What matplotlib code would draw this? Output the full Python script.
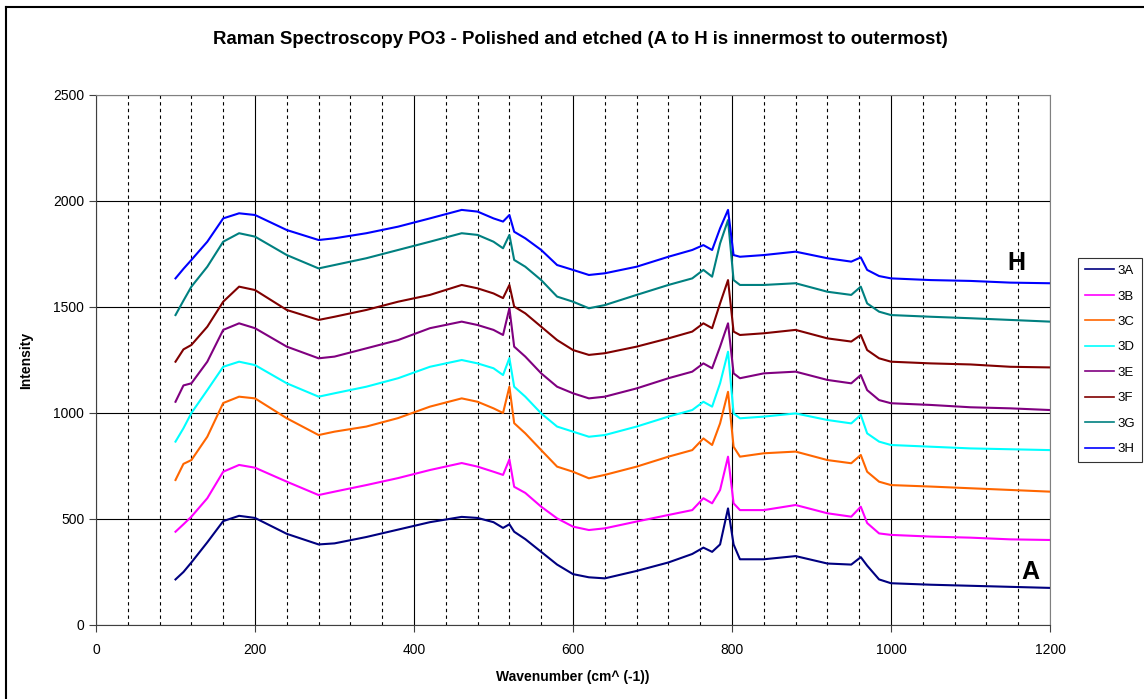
import matplotlib.pyplot as plt
import matplotlib as mpl
from matplotlib.lines import Line2D

mpl.rcParams['font.family'] = ['Liberation Sans', 'DejaVu Sans']

# wavenumber grid (cm^-1)
wavenumber = [100, 110, 120, 140, 160, 180, 200, 240, 280, 300, 340, 380, 420, 460, 480, 500,
              512, 520, 526, 540, 560, 580, 600, 620, 640, 680, 720, 750, 764, 775, 785, 795,
              802, 810, 840, 880, 920, 950, 962, 970, 985, 1000, 1050, 1100, 1150, 1200]

s3A = [215, 250, 295, 390, 490, 515, 505, 430, 380, 385, 415, 450, 485, 510, 505, 485,
       458, 475, 440, 405, 345, 285, 240, 225, 220, 255, 295, 335, 365, 345, 380, 550,
       380, 310, 310, 325, 290, 285, 320, 280, 215, 197, 190, 185, 180, 175]
s3B = [440, 475, 511, 598, 723, 755, 742, 676, 613, 629, 660, 693, 731, 764, 747, 723,
       708, 781, 652, 623, 558, 503, 464, 448, 456, 488, 519, 542, 598, 574, 637, 794,
       574, 542, 542, 566, 527, 511, 558, 481, 432, 425, 417, 412, 404, 401]
s3C = [684, 760, 778, 888, 1047, 1077, 1069, 975, 896, 912, 936, 976, 1030, 1069, 1053, 1022,
       1000, 1124, 952, 904, 825, 747, 723, 692, 708, 747, 794, 825, 880, 849, 951, 1100,
       841, 794, 810, 818, 778, 763, 802, 723, 676, 660, 653, 645, 637, 629]
s3D = [865, 928, 1000, 1108, 1218, 1242, 1226, 1140, 1077, 1093, 1124, 1164, 1218, 1250, 1234, 1211,
       1179, 1259, 1124, 1077, 998, 936, 912, 888, 896, 936, 983, 1014, 1053, 1030, 1140, 1289,
       998, 975, 983, 998, 967, 951, 991, 904, 865, 849, 841, 833, 829, 825]
s3E = [1053, 1130, 1140, 1242, 1392, 1423, 1400, 1313, 1258, 1266, 1305, 1344, 1400, 1431, 1415, 1392,
       1368, 1494, 1313, 1266, 1187, 1124, 1093, 1069, 1077, 1116, 1164, 1195, 1234, 1211, 1313, 1423,
       1187, 1164, 1187, 1195, 1156, 1140, 1179, 1108, 1061, 1046, 1038, 1027, 1022, 1014]
s3F = [1242, 1300, 1321, 1407, 1525, 1596, 1580, 1486, 1439, 1454, 1486, 1525, 1557, 1604, 1588, 1564,
       1542, 1604, 1502, 1470, 1407, 1344, 1297, 1274, 1282, 1313, 1352, 1384, 1423, 1400, 1517, 1627,
       1384, 1368, 1376, 1392, 1352, 1337, 1368, 1297, 1258, 1242, 1234, 1229, 1218, 1215]
s3G = [1462, 1530, 1596, 1690, 1808, 1848, 1832, 1745, 1682, 1698, 1730, 1769, 1808, 1848, 1840, 1808,
       1777, 1840, 1722, 1690, 1627, 1549, 1525, 1494, 1509, 1557, 1604, 1635, 1675, 1643, 1800, 1910,
       1627, 1604, 1604, 1612, 1572, 1557, 1596, 1517, 1478, 1462, 1454, 1447, 1439, 1431]
s3H = [1635, 1680, 1722, 1808, 1918, 1942, 1934, 1863, 1816, 1824, 1848, 1879, 1918, 1958, 1950, 1918,
       1903, 1934, 1855, 1824, 1769, 1698, 1675, 1651, 1659, 1690, 1737, 1769, 1792, 1769, 1871, 1958,
       1745, 1737, 1745, 1761, 1730, 1714, 1734, 1675, 1646, 1635, 1627, 1623, 1615, 1612]

names = ['3A', '3B', '3C', '3D', '3E', '3F', '3G', '3H']
series = [s3A, s3B, s3C, s3D, s3E, s3F, s3G, s3H]
colours = ['#000080', '#FF00FF', '#FF6600', '#00FFFF', '#800080', '#800000', '#008080', '#0000FF']

fig = plt.figure(figsize=(11.44, 6.99), dpi=100)
ax = fig.add_axes([96 / 1144, 1 - 625 / 699, 954 / 1144, 530 / 699])

# frame of the whole chart (only top/left edges are visible)
fig.add_artist(Line2D([6 / 1144, 1], [1 - 7 / 699, 1 - 7 / 699], color='black', lw=1.5))
fig.add_artist(Line2D([6 / 1144, 6 / 1144], [0, 1 - 7 / 699], color='black', lw=1.5))

for name, ys, c in zip(names, series, colours):
    ax.plot(wavenumber, ys, color=c, lw=1.5, label=name)

ax.set_xlim(0, 1200)
ax.set_ylim(0, 2500)
ax.set_xticks(range(0, 1201, 200))
ax.set_xticks(range(0, 1201, 40), minor=True)
ax.set_yticks(range(0, 2501, 500))
ax.grid(which='major', axis='both', color='black', lw=0.8)
ax.grid(which='minor', axis='x', color='black', lw=0.8, linestyle=(0, (3, 3)))
ax.set_axisbelow(True)
ax.tick_params(which='major', direction='out', length=5, labelsize=10, color='#404040')
ax.tick_params(which='minor', length=0)
ax.tick_params(axis='x', pad=8)
for sp in ax.spines.values():
    sp.set_color('#808080')
ax.spines['left'].set_color('#404040')
ax.spines['bottom'].set_color('#404040')

ax.set_xlabel('Wavenumber (cm^ (-1))', fontsize=10, fontweight='bold', labelpad=9)
ax.set_ylabel('Intensity', fontsize=10, fontweight='bold', labelpad=14)
fig.text(580 / 1144, 1 - 40 / 699, 'Raman Spectroscopy PO3 - Polished and etched (A to H is innermost to outermost)',
         ha='center', va='center', fontsize=13.4, fontweight='bold')

ax.text(1158, 1708, 'H', fontsize=18, fontweight='bold', ha='center', va='center')
ax.text(1175, 250, 'A', fontsize=18, fontweight='bold', ha='center', va='center')

leg = fig.legend(loc='center', bbox_to_anchor=(1110 / 1144, 1 - 360 / 699), fontsize=9.5,
                 frameon=True, fancybox=False, edgecolor='black', handlelength=2.2,
                 handletextpad=0.3, labelspacing=1.0, borderpad=0.5, borderaxespad=0)
leg.get_frame().set_linewidth(0.8)
for l in leg.get_lines():
    l.set_linewidth(1.2)

fig.savefig('out.png', dpi=100)
